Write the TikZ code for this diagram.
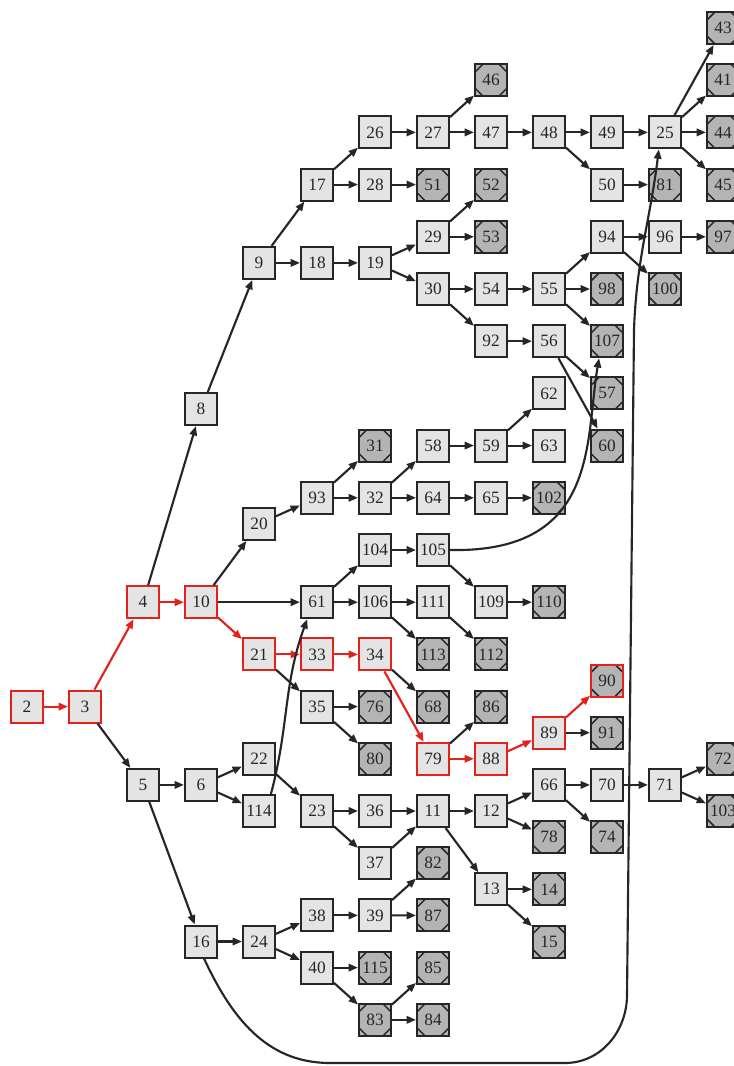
\documentclass[tikz,border=0pt]{standalone}
\usepackage{fontspec}
\setmainfont{Liberation Serif}
\usepackage{tikz}
\usetikzlibrary{arrows.meta}
\usetikzlibrary{positioning}

\definecolor{boxgray}{HTML}{E4E4E4}
\definecolor{leafgray}{HTML}{B4B4B4}
\definecolor{inkgray}{HTML}{262626}
\definecolor{pathred}{HTML}{E3231B}

\tikzset{
    cell/.style={draw=inkgray, fill=boxgray, line width=1.5pt, minimum size=24pt,
        inner sep=0pt, text=inkgray, font=\fontsize{13}{13}\selectfont},
    leaf/.style={cell, fill=leafgray, path picture={
        \foreach \c/\sx/\sy in {north west/1/-1, north east/-1/-1, south west/1/1, south east/-1/1}
            \draw[line width=1.1pt, inkgray] ([xshift=\sx*6pt]path picture bounding box.\c)
                -- ([yshift=\sy*6pt]path picture bounding box.\c);
    }},
    hot/.style={draw=pathred},
    flow/.style={draw=inkgray, line width=1.6pt, -{Triangle[length=7pt,width=5.5pt]}},
    hotflow/.style={flow, draw=pathred},
}

\begin{document}
\begin{tikzpicture}[node distance=39.15pt and 43.5pt, on grid]
    \fill[white] (0pt,0pt) rectangle (550.5pt,-799.5pt);
    \useasboundingbox (0pt,0pt) rectangle (550.5pt,-799.5pt);

    % root and main split
    \node[cell,hot] (n2) at (20.25pt,-529.95pt) {2};
    \node[cell,hot, right=of n2] (n3) {3};
    \node[cell,hot, above right=78.3pt and 43.5pt of n3] (n4) {4};
    \node[cell,hot, right=of n4] (n10) {10};
    \node[cell, below right=58.73pt and 43.5pt of n3] (n5) {5};
    \node[cell, right=of n5] (n6) {6};
    \node[cell, below right=117.45pt and 43.5pt of n5] (n16) {16};

    % upper branch
    \node[cell, above right=144.86pt and 43.5pt of n4] (n8) {8};
    \node[cell, above right=109.62pt and 43.5pt of n8] (n9) {9};
    \node[cell, above right=58.73pt and 43.5pt of n9] (n17) {17};
    \node[cell, right=of n9] (n18) {18};
    \node[cell, above right=of n17] (n26) {26};
    \node[cell, right=of n17] (n28) {28};
    \node[cell, right=of n26] (n27) {27};
    \node[leaf, right=of n28] (n51) {51};
    \node[leaf, above right=of n27] (n46) {46};
    \node[cell, right=of n27] (n47) {47};
    \node[cell, right=of n47] (n48) {48};
    \node[cell, right=of n48] (n49) {49};
    \node[cell, right=of n49] (n25) {25};
    \node[cell, below=of n49] (n50) {50};
    \node[leaf, right=of n50] (n81) {81};
    \node[leaf, above right=78.3pt and 43.5pt of n25] (n43) {43};
    \node[leaf, above right=of n25] (n41) {41};
    \node[leaf, right=of n25] (n44) {44};
    \node[leaf, below right=of n25] (n45) {45};
    \node[cell, right=of n18] (n19) {19};
    \node[cell, above right=19.58pt and 43.5pt of n19] (n29) {29};
    \node[cell, below right=19.58pt and 43.5pt of n19] (n30) {30};
    \node[leaf, above right=of n29] (n52) {52};
    \node[leaf, right=of n29] (n53) {53};
    \node[cell, right=of n30] (n54) {54};
    \node[cell, below right=of n30] (n92) {92};
    \node[cell, right=of n54] (n55) {55};
    \node[cell, right=of n92] (n56) {56};
    \node[cell, above right=of n55] (n94) {94};
    \node[leaf, right=of n55] (n98) {98};
    \node[leaf, below right=of n55] (n107) {107};
    \node[cell, right=of n94] (n96) {96};
    \node[leaf, below right=of n94] (n100) {100};
    \node[leaf, right=of n96] (n97) {97};
    \node[leaf, below=of n107] (n57) {57};
    \node[leaf, below=of n57] (n60) {60};

    % middle branch
    \node[cell, above right=58.73pt and 43.5pt of n10] (n20) {20};
    \node[cell, above right=19.58pt and 43.5pt of n20] (n93) {93};
    \node[leaf, above right=of n93] (n31) {31};
    \node[cell, right=of n93] (n32) {32};
    \node[cell, above right=of n32] (n58) {58};
    \node[cell, right=of n32] (n64) {64};
    \node[cell, right=of n58] (n59) {59};
    \node[cell, right=of n64] (n65) {65};
    \node[cell, above right=of n59] (n62) {62};
    \node[cell, right=of n59] (n63) {63};
    \node[leaf, right=of n65] (n102) {102};
    \node[cell, right=87pt of n10] (n61) {61};
    \node[cell, above right=of n61] (n104) {104};
    \node[cell, right=of n61] (n106) {106};
    \node[cell, right=of n104] (n105) {105};
    \node[cell, right=of n106] (n111) {111};
    \node[leaf, below right=of n106] (n113) {113};
    \node[cell, below right=of n105] (n109) {109};
    \node[leaf, below right=of n111] (n112) {112};
    \node[leaf, right=of n109] (n110) {110};
    \node[cell,hot, below right=of n10] (n21) {21};
    \node[cell,hot, right=of n21] (n33) {33};
    \node[cell,hot, right=of n33] (n34) {34};
    \node[cell, below right=of n21] (n35) {35};
    \node[leaf, right=of n35] (n76) {76};
    \node[leaf, below right=of n35] (n80) {80};
    \node[leaf, below right=of n34] (n68) {68};
    \node[cell,hot, below=of n68] (n79) {79};
    \node[leaf, above right=of n79] (n86) {86};
    \node[cell,hot, right=of n79] (n88) {88};
    \node[cell,hot, above right=19.58pt and 43.5pt of n88] (n89) {89};
    \node[leaf,hot, above right=of n89] (n90) {90};
    \node[leaf, right=of n89] (n91) {91};

    % lower branch
    \node[cell, above right=19.58pt and 43.5pt of n6] (n22) {22};
    \node[cell, below right=19.58pt and 43.5pt of n6] (n114) {114};
    \node[cell, right=of n114] (n23) {23};
    \node[cell, right=of n23] (n36) {36};
    \node[cell, below right=of n23] (n37) {37};
    \node[cell, right=of n36] (n11) {11};
    \node[leaf, below=of n11] (n82) {82};
    \node[leaf, below=of n82] (n87) {87};
    \node[cell, right=of n11] (n12) {12};
    \node[cell, below=58.73pt of n12] (n13) {13};
    \node[leaf, right=of n13] (n14) {14};
    \node[leaf, below right=of n13] (n15) {15};
    \node[cell, above right=19.58pt and 43.5pt of n12] (n66) {66};
    \node[leaf, below right=19.58pt and 43.5pt of n12] (n78) {78};
    \node[cell, right=of n66] (n70) {70};
    \node[leaf, below right=of n66] (n74) {74};
    \node[cell, right=of n70] (n71) {71};
    \node[leaf, above right=19.58pt and 43.5pt of n71] (n72) {72};
    \node[leaf, below right=19.58pt and 43.5pt of n71] (n103) {103};
    \node[cell, right=of n16] (n24) {24};
    \node[cell, above right=19.58pt and 43.5pt of n24] (n38) {38};
    \node[cell, below right=19.58pt and 43.5pt of n24] (n40) {40};
    \node[cell, right=of n38] (n39) {39};
    \node[leaf, right=of n40] (n115) {115};
    \node[leaf, below right=of n40] (n83) {83};
    \node[leaf, above right=of n83] (n85) {85};
    \node[leaf, right=of n83] (n84) {84};

    % bends of the long edge 16 -> 25
    \coordinate (b1) at (247.5pt,-797.25pt);
    \coordinate (b2) at (423.75pt,-797.25pt);
    \coordinate (r1) at (470.25pt,-746.25pt);
    \coordinate (r2) at (475.5pt,-247.5pt);

    % highlighted path
    \draw[hotflow] (n2) -- (n3);
    \draw[hotflow] (n3) -- (n4);
    \draw[hotflow] (n4) -- (n10);
    \draw[hotflow] (n10) -- (n21);
    \draw[hotflow] (n21) -- (n33);
    \draw[hotflow] (n33) -- (n34);
    \draw[hotflow] (n34) -- (n79);
    \draw[hotflow] (n79) -- (n88);
    \draw[hotflow] (n88) -- (n89);
    \draw[hotflow] (n89) -- (n90);

    % upper branch
    \draw[flow] (n4) -- (n8);
    \draw[flow] (n8) -- (n9);
    \draw[flow] (n9) -- (n17);
    \draw[flow] (n9) -- (n18);
    \draw[flow] (n17) -- (n26);
    \draw[flow] (n17) -- (n28);
    \draw[flow] (n26) -- (n27);
    \draw[flow] (n27) -- (n46);
    \draw[flow] (n27) -- (n47);
    \draw[flow] (n28) -- (n51);
    \draw[flow] (n47) -- (n48);
    \draw[flow] (n48) -- (n49);
    \draw[flow] (n48) -- (n50);
    \draw[flow] (n49) -- (n25);
    \draw[flow] (n50) -- (n81);
    \draw[flow] (n25) -- (n43);
    \draw[flow] (n25) -- (n41);
    \draw[flow] (n25) -- (n44);
    \draw[flow] (n25) -- (n45);
    \draw[flow] (n18) -- (n19);
    \draw[flow] (n19) -- (n29);
    \draw[flow] (n19) -- (n30);
    \draw[flow] (n29) -- (n52);
    \draw[flow] (n29) -- (n53);
    \draw[flow] (n30) -- (n54);
    \draw[flow] (n30) -- (n92);
    \draw[flow] (n54) -- (n55);
    \draw[flow] (n55) -- (n94);
    \draw[flow] (n55) -- (n98);
    \draw[flow] (n55) -- (n107);
    \draw[flow] (n94) -- (n96);
    \draw[flow] (n94) -- (n100);
    \draw[flow] (n96) -- (n97);
    \draw[flow] (n92) -- (n56);
    \draw[flow] (n56) -- (n57);
    \draw[flow] (n56) -- (n60);

    % middle branch
    \draw[flow] (n10) -- (n20);
    \draw[flow] (n20) -- (n93);
    \draw[flow] (n93) -- (n31);
    \draw[flow] (n93) -- (n32);
    \draw[flow] (n32) -- (n58);
    \draw[flow] (n32) -- (n64);
    \draw[flow] (n58) -- (n59);
    \draw[flow] (n59) -- (n62);
    \draw[flow] (n59) -- (n63);
    \draw[flow] (n64) -- (n65);
    \draw[flow] (n65) -- (n102);
    \draw[flow] (n10) -- (n61);
    \draw[flow] (n61) -- (n104);
    \draw[flow] (n61) -- (n106);
    \draw[flow] (n104) -- (n105);
    \draw[flow] (n105) -- (n109);
    \draw[flow] (n105.east) .. controls (450pt,-414.75pt) and (438.75pt,-330pt) .. (n107.-115); % long way up
    \draw[flow] (n106) -- (n111);
    \draw[flow] (n106) -- (n113);
    \draw[flow] (n111) -- (n112);
    \draw[flow] (n109) -- (n110);
    \draw[flow] (n21) -- (n35);
    \draw[flow] (n35) -- (n76);
    \draw[flow] (n35) -- (n80);
    \draw[flow] (n34) -- (n68);
    \draw[flow] (n79) -- (n86);
    \draw[flow] (n89) -- (n91);

    % lower branch
    \draw[flow] (n3) -- (n5);
    \draw[flow] (n5) -- (n6);
    \draw[flow] (n5) -- (n16);
    \draw[flow] (n6) -- (n22);
    \draw[flow] (n6) -- (n114);
    \draw[flow] (n114.55) to[out=75, in=-110] (n61.-120); % back up to 61
    \draw[flow] (n22) -- (n23);
    \draw[flow] (n23) -- (n36);
    \draw[flow] (n23) -- (n37);
    \draw[flow] (n36) -- (n11);
    \draw[flow] (n37) -- (n11);
    \draw[flow] (n11) -- (n12);
    \draw[flow] (n11) -- (n13);
    \draw[flow] (n12) -- (n66);
    \draw[flow] (n12) -- (n78);
    \draw[flow] (n66) -- (n70);
    \draw[flow] (n66) -- (n74);
    \draw[flow] (n70) -- (n71);
    \draw[flow] (n71) -- (n72);
    \draw[flow] (n71) -- (n103);
    \draw[flow] (n13) -- (n14);
    \draw[flow] (n13) -- (n15);
    \draw[flow] (n16) -- (n24);
    \draw[flow] (n24) -- (n38);
    \draw[flow] (n24) -- (n40);
    \draw[flow] (n38) -- (n39);
    \draw[flow] (n39) -- (n82);
    \draw[flow] (n39) -- (n87);
    \draw[flow] (n40) -- (n115);
    \draw[flow] (n40) -- (n83);
    \draw[flow] (n83) -- (n85);
    \draw[flow] (n83) -- (n84);
    \draw[flow] (n16.-80) to[out=-65, in=180] (b1) -- (b2) to[out=0, in=-90] (r1)
        -- (r2) to[out=88, in=-97] (n25.-110); % round the bottom to 25
\end{tikzpicture}
\end{document}
